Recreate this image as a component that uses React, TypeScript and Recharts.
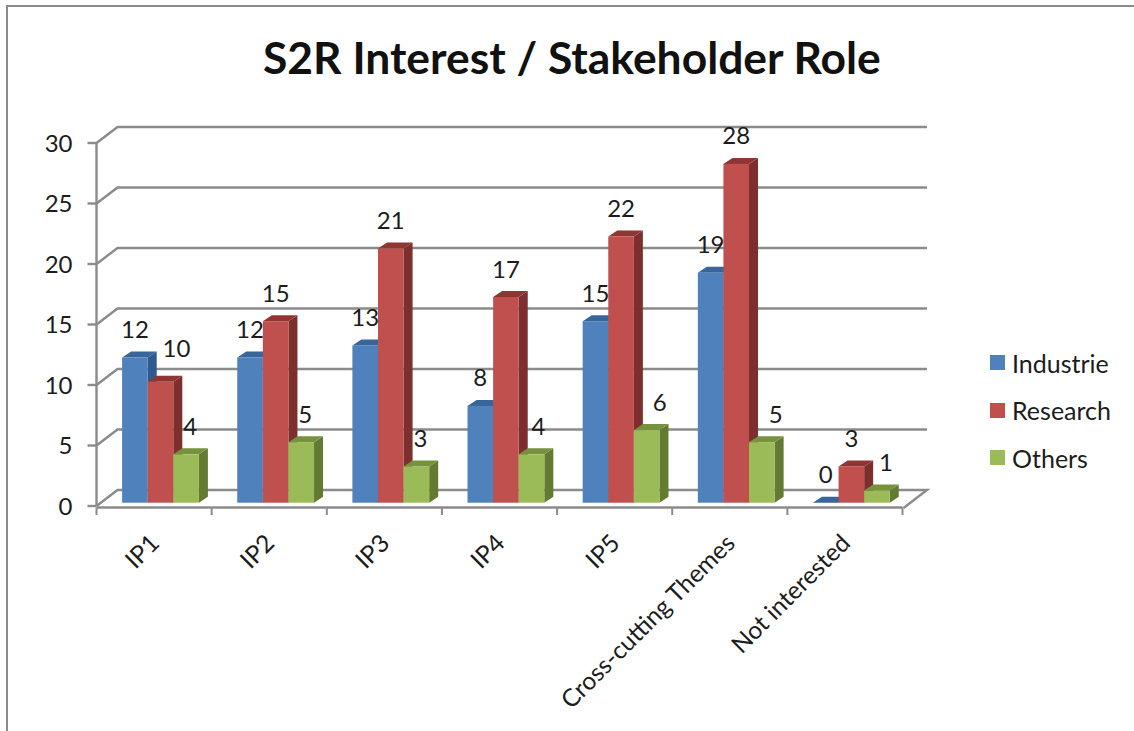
import { BarChart, Bar, XAxis, YAxis, CartesianGrid, Legend, LabelList } from "recharts";

const categories = ["IP1", "IP2", "IP3", "IP4", "IP5", "Cross-cutting Themes", "Not interested"];
const industrie = [12, 12, 13, 8, 15, 19, 0];
const research = [10, 15, 21, 17, 22, 28, 3];
const others = [4, 5, 3, 4, 6, 5, 1];
const yTicks = [0, 5, 10, 15, 20, 25, 30];

const data = categories.map((name, i) => ({
  name,
  industrie: industrie[i],
  research: research[i],
  others: others[i],
}));

const FONT = "Lato, sans-serif";
const TEXT = "#1c1c1c";
const AXIS = "#8b8b8b";

// plot box = the front plane of the fake 3D chart
const PLOT_LEFT = 96.5;
const PLOT_TOP = 143;
const PLOT_W = 806;
const PLOT_H = 363;
const BAND = PLOT_W / categories.length;

// wall depth, bar depth
const WALL_DX = 21;
const WALL_DY = 16;
const BAR_DX = 9;
const BAR_DY = 6;
const BAR_SHIFT_X = 6.6;
const BAR_SHIFT_Y = -3.3;

function GridLine(props: any) {
  const { x1, x2, y1, index } = props;
  const backY = y1 - WALL_DY;
  let d = `M${x1},${y1} L${x1 + WALL_DX},${backY} L${x2 + 24.5},${backY}`;
  // floor closes on the right side
  if (index === 0 || y1 >= PLOT_TOP + PLOT_H - 1) d += ` L${x2 + 1},${y1 + 2}`;
  return <path d={d} fill="none" stroke={AXIS} strokeWidth={2.4} />;
}

function makeBar(front: string, top: string, side: string) {
  return function Bar3D(props: any) {
    const { x, y, width, height } = props;
    const l = x + BAR_SHIFT_X;
    const r = l + width;
    const t = y + BAR_SHIFT_Y;
    const b = t + height;
    return (
      <g>
        <path d={`M${r},${t} L${r + BAR_DX},${t - BAR_DY} L${r + BAR_DX},${b - BAR_DY} L${r},${b} Z`} fill={side} />
        <path d={`M${l},${t} L${l + BAR_DX},${t - BAR_DY} L${r + BAR_DX},${t - BAR_DY} L${r},${t} Z`} fill={top} />
        <rect x={l} y={t} width={width} height={height} fill={front} />
      </g>
    );
  };
}

function makeLabel(shiftX: number, nudge: Record<number, [number, number]> = {}) {
  return function BarValue(props: any) {
    const { x, y, width, value, index } = props;
    const [nx, ny] = nudge[index] || [0, 0];
    return (
      <text
        x={x + BAR_SHIFT_X + width / 2 + shiftX + nx}
        y={y + BAR_SHIFT_Y - 29 + ny}
        textAnchor="middle"
        dominantBaseline="central"
        fontFamily={FONT}
        fontSize={24}
        fill={TEXT}
      >
        {value}
      </text>
    );
  };
}

function CategoryTick(props: any) {
  const { x, y, payload, index } = props;
  const left = x - BAND / 2;
  const right = x + BAND / 2;
  return (
    <g>
      <line x1={left} x2={right} y1={y + 1.5} y2={y + 1.5} stroke={AXIS} strokeWidth={2.4} />
      <line x1={left} x2={left} y1={y + 1.5} y2={y + 9} stroke={AXIS} strokeWidth={2} />
      {index === categories.length - 1 && (
        <line x1={right} x2={right} y1={y + 1.5} y2={y + 9} stroke={AXIS} strokeWidth={2} />
      )}
      <text
        x={x}
        y={y + 32}
        textAnchor="end"
        dominantBaseline="central"
        transform={`rotate(-45 ${x} ${y + 32})`}
        fontFamily={FONT}
        fontSize={24.5}
        fill={TEXT}
      >
        {payload.value}
      </text>
    </g>
  );
}

function LegendBox(props: any) {
  return (
    <div>
      {props.payload.map((item: any) => (
        <div key={item.value} style={{ display: "flex", alignItems: "center", height: 47.5 }}>
          <span style={{ width: 15, height: 15, background: item.color, marginRight: 7 }} />
          <span style={{ fontFamily: FONT, fontSize: 25, color: TEXT }}>{item.value}</span>
        </div>
      ))}
    </div>
  );
}

export default function App() {
  return (
    <div style={{ position: "absolute", left: 0, top: 0, width: 1134, height: 731, background: "#fff", overflow: "hidden" }}>
      <div
        style={{
          position: "absolute",
          left: 6,
          top: 5,
          width: 1140,
          height: 740,
          borderLeft: `2.5px solid ${AXIS}`,
          borderTop: `2.5px solid ${AXIS}`,
        }}
      />
      <div
        style={{
          position: "absolute",
          left: 263,
          top: 32,
          fontFamily: FONT,
          fontWeight: 700,
          fontSize: 44.4,
          lineHeight: "50px",
          color: "#111",
          whiteSpace: "nowrap",
        }}
      >
        S2R Interest / Stakeholder Role
      </div>
      <BarChart
        width={1134}
        height={731}
        data={data}
        barGap={0}
        barSize={25.6}
        margin={{ top: PLOT_TOP, left: PLOT_LEFT - 60, right: 1134 - PLOT_LEFT - PLOT_W, bottom: 731 - PLOT_TOP - PLOT_H - 200 }}
        style={{ position: "absolute", left: 0, top: 0 }}
      >
        <CartesianGrid vertical={false} horizontal={(p: any) => <GridLine key={p.key} {...p} />} />
        <XAxis dataKey="name" height={200} interval={0} axisLine={false} tickLine={false} tickSize={0} tickMargin={0} tick={<CategoryTick />} />
        <YAxis
          width={60}
          domain={[0, 30]}
          ticks={yTicks}
          interval={0}
          tickSize={9}
          tickMargin={15}
          axisLine={{ stroke: AXIS, strokeWidth: 2.4 }}
          tickLine={{ stroke: AXIS, strokeWidth: 2.4 }}
          tick={{ fontFamily: FONT, fontSize: 24, fill: TEXT }}
        />
        <Legend
          layout="vertical"
          align="center"
          verticalAlign="middle"
          itemSorter={null}
          content={<LegendBox />}
          wrapperStyle={{ left: 990, top: 339, width: 140 }}
        />
        <Bar dataKey="industrie" name="Industrie" fill="#4f81bd" isAnimationActive={false} shape={makeBar("#4f81bd", "#38659a", "#2f5a8d")}>
          <LabelList dataKey="industrie" content={makeLabel(0)} />
        </Bar>
        <Bar dataKey="research" name="Research" fill="#c0504d" isAnimationActive={false} shape={makeBar("#c0504d", "#8f3634", "#7d2f2d")}>
          <LabelList dataKey="research" content={makeLabel(0, { 0: [16, -5] })} />
        </Bar>
        <Bar dataKey="others" name="Others" fill="#9bbb59" isAnimationActive={false} shape={makeBar("#9bbb59", "#76923c", "#637a33")}>
          <LabelList dataKey="others" content={makeLabel(4, { 3: [3, 0], 4: [9, 0], 5: [10, 0], 6: [5, 0] })} />
        </Bar>
      </BarChart>
    </div>
  );
}
